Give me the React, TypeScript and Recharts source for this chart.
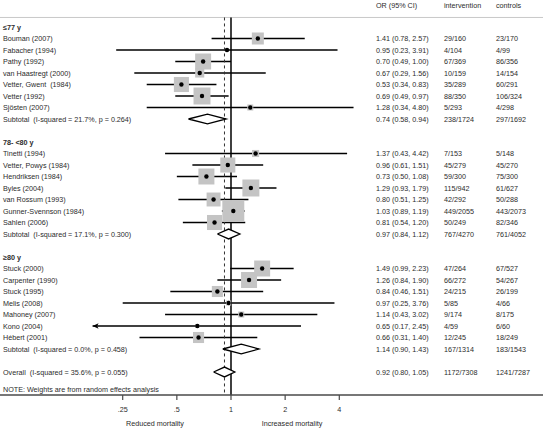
import React from "react";
import { ScatterChart, Scatter, XAxis, YAxis, ErrorBar, ReferenceLine } from "recharts";

const FONT = '"Liberation Sans", Arial, Helvetica, sans-serif';
const TEXT = "#2b2b2b";

const groupTitles = ["≤77 y", "78- <80 y", "≥80 y"];

const studyNames = [
  "Bouman (2007)", "Fabacher (1994)", "Pathy (1992)", "van Haastregt (2000)",
  "Vetter, Gwent  (1984)", "Vetter (1992)", "Sjösten (2007)",
  "Tinetti (1994)", "Vetter, Powys (1984)", "Hendriksen (1984)", "Byles (2004)",
  "van Rossum (1993)", "Gunner-Svennson (1984)", "Sahlen (2006)",
  "Stuck (2000)", "Carpenter (1990)", "Stuck (1995)", "Melis (2008)",
  "Mahoney (2007)", "Kono (2004)", "Hébert (2001)",
];
const studyGroup = [0, 0, 0, 0, 0, 0, 0, 1, 1, 1, 1, 1, 1, 1, 2, 2, 2, 2, 2, 2, 2];
const studyOR = [1.41, 0.95, 0.7, 0.67, 0.53, 0.69, 1.28, 1.37, 0.96, 0.73, 1.29, 0.8, 1.03, 0.81, 1.49, 1.26, 0.84, 0.97, 1.14, 0.65, 0.66];
const studyLow = [0.78, 0.23, 0.49, 0.29, 0.34, 0.49, 0.34, 0.43, 0.61, 0.5, 0.93, 0.51, 0.89, 0.54, 0.99, 0.84, 0.46, 0.25, 0.43, 0.17, 0.31];
const studyHigh = [2.57, 3.91, 1.0, 1.56, 0.83, 0.97, 4.8, 4.42, 1.51, 1.08, 1.79, 1.25, 1.19, 1.2, 2.23, 1.9, 1.51, 3.76, 3.02, 2.45, 1.4];
const studyIntervention = [
  "29/160", "4/104", "67/369", "10/159", "35/289", "88/350", "5/293",
  "7/153", "45/279", "59/300", "115/942", "42/292", "449/2055", "50/249",
  "47/264", "66/272", "24/215", "5/85", "9/174", "4/59", "12/245",
];
const studyControls = [
  "23/170", "4/99", "86/356", "14/154", "60/291", "106/324", "4/298",
  "5/148", "45/270", "75/300", "61/627", "50/288", "443/2073", "82/346",
  "67/527", "54/267", "26/199", "4/66", "8/175", "6/60", "18/249",
];
// random-effects weights (%)
const studyWeight = [4.0, 0.3, 7.1, 2.3, 6.3, 8.0, 1.0, 1.4, 6.3, 7.1, 8.0, 5.4, 13.4, 6.3, 7.1, 7.1, 3.4, 0.7, 1.0, 0.4, 3.4];
// studies whose lower CI is drawn with an arrow
const truncatedLow = ["Kono (2004)"];

const subtotalI2 = ["21.7%", "17.1%", "0.0%"];
const subtotalP = ["0.264", "0.300", "0.458"];
const subtotalOR = [0.74, 0.97, 1.14];
const subtotalLow = [0.58, 0.84, 0.9];
const subtotalHigh = [0.94, 1.12, 1.43];
const subtotalIntervention = ["238/1724", "767/4270", "167/1314"];
const subtotalControls = ["297/1692", "761/4052", "183/1543"];

const overallI2 = "35.6%";
const overallP = "0.055";
const overallOR = 0.92;
const overallLow = 0.8;
const overallHigh = 1.05;
const overallIntervention = "1172/7308";
const overallControls = "1241/7287";

const columnHeaders = ["OR (95% CI)", "intervention", "controls"];
const noteText = "NOTE: Weights are from random effects analysis";

const xTicks = [0.25, 0.5, 1, 2, 4];
const xTickLabels = [".25", ".5", "1", "2", "4"];

// layout
const W = 544;
const H = 432;
const X_DOMAIN: [number, number] = [-4.266, 5.762];
const Y_DOMAIN: [number, number] = [-2.348, 32];
const HEADER_ROW = -1.9;
const RULE_ROW = -0.83;
const COL_X = [3, 376, 444, 496];
const DIAMOND_HALF = 0.43;

type Row = { x: number; y: number; label: string; bold?: boolean; est?: string; iv?: string; ct?: string };

const ciText = (or: number, lo: number, hi: number) =>
  `${or.toFixed(2)} (${lo.toFixed(2)}, ${hi.toFixed(2)})`;

// text rows are anchored at the left edge of the x domain
const ROW_X = X_DOMAIN[0] + 0.01;

const rows: Row[] = [
  { x: ROW_X, y: HEADER_ROW, label: "", est: columnHeaders[0], iv: columnHeaders[1], ct: columnHeaders[2] },
];
const points: { x: number; y: number; w: number; err: [number, number] }[] = [];
const arrows: { x: number; y: number }[] = [];
const diamonds: { x: number; y: number }[][] = [];

const diamond = (or: number, lo: number, hi: number, y: number) => [
  { x: Math.log2(lo), y },
  { x: Math.log2(or), y: y - DIAMOND_HALF },
  { x: Math.log2(hi), y },
  { x: Math.log2(or), y: y + DIAMOND_HALF },
  { x: Math.log2(lo), y },
];

let r = 0;
groupTitles.forEach((title, g) => {
  rows.push({ x: ROW_X, y: r++, label: title, bold: true });
  studyNames.forEach((name, i) => {
    if (studyGroup[i] !== g) return;
    const x = Math.log2(studyOR[i]);
    rows.push({
      x: ROW_X,
      y: r,
      label: name,
      est: ciText(studyOR[i], studyLow[i], studyHigh[i]),
      iv: studyIntervention[i],
      ct: studyControls[i],
    });
    points.push({
      x,
      y: r,
      w: studyWeight[i],
      err: [x - Math.log2(studyLow[i]), Math.log2(studyHigh[i]) - x],
    });
    if (truncatedLow.includes(name)) arrows.push({ x: Math.log2(studyLow[i]), y: r });
    r++;
  });
  rows.push({
    x: ROW_X,
    y: r,
    label: `Subtotal  (I-squared = ${subtotalI2[g]}, p = ${subtotalP[g]})`,
    est: ciText(subtotalOR[g], subtotalLow[g], subtotalHigh[g]),
    iv: subtotalIntervention[g],
    ct: subtotalControls[g],
  });
  diamonds.push(diamond(subtotalOR[g], subtotalLow[g], subtotalHigh[g], r));
  r += 2;
});
rows.push({
  x: ROW_X,
  y: r,
  label: `Overall  (I-squared = ${overallI2}, p = ${overallP})`,
  est: ciText(overallOR, overallLow, overallHigh),
  iv: overallIntervention,
  ct: overallControls,
});
diamonds.push(diamond(overallOR, overallLow, overallHigh, r));
rows.push({ x: ROW_X, y: r + 1.5, label: noteText });

const txt = { fontFamily: FONT, fontSize: 7.2, fill: TEXT, whiteSpace: "pre" } as const;

const RowText = ({ cy, payload }: any) => {
  const row = payload as Row;
  const cells = [row.label, row.est, row.iv, row.ct];
  return (
    <g>
      {cells.map((c, i) =>
        c ? (
          <text key={i} x={COL_X[i]} y={cy} dy="0.35em" style={txt} fontWeight={row.bold ? "bold" : "normal"}>
            {c}
          </text>
        ) : null
      )}
    </g>
  );
};

const WeightBox = ({ cx, cy, payload }: any) => {
  const s = 6 * Math.sqrt(payload.w);
  return <rect x={cx - s / 2} y={cy - s / 2} width={s} height={s} fill="#c4c4c4" />;
};

const Dot = ({ cx, cy }: any) => <circle cx={cx} cy={cy} r={2.2} fill="#000" />;

const ArrowHead = ({ cx, cy }: any) => (
  <path d={`M${cx},${cy} L${cx + 6},${cy - 2.8} L${cx + 4.5},${cy} L${cx + 6},${cy + 2.8} Z`} fill="#000" />
);

const Empty = () => <g />;

const Captions = ({ viewBox }: any) => {
  const y = (viewBox?.y ?? 395) + 31;
  return (
    <g>
      <text x={155} y={y} textAnchor="middle" style={txt}>Reduced mortality</text>
      <text x={292} y={y} textAnchor="middle" style={txt}>Increased mortality</text>
    </g>
  );
};

export default function App() {
  return (
    <div style={{ position: "absolute", left: 0, top: 0, background: "#fff" }}>
      <ScatterChart width={W} height={H} margin={{ top: 0, right: 1, bottom: 0, left: 0 }}>
        <XAxis
          type="number"
          dataKey="x"
          domain={X_DOMAIN}
          allowDataOverflow
          ticks={xTicks.map(Math.log2)}
          tickFormatter={(v: number) => xTickLabels[xTicks.findIndex((t) => Math.abs(Math.log2(t) - v) < 1e-6)]}
          interval={0}
          height={37}
          tickSize={5}
          tickMargin={7}
          axisLine={{ stroke: "#4a4a4a", strokeWidth: 1.3 }}
          tickLine={{ stroke: "#4a4a4a", strokeWidth: 1.2 }}
          tick={{ fill: TEXT, fontSize: 7.2, fontFamily: FONT }}
          label={<Captions />}
        />
        <YAxis type="number" dataKey="y" domain={Y_DOMAIN} allowDataOverflow reversed hide />
        <ReferenceLine y={RULE_ROW} stroke="#c8c8c8" strokeWidth={1} />
        <Scatter data={rows} shape={<RowText />} isAnimationActive={false} />
        <Scatter data={points} shape={<WeightBox />} isAnimationActive={false} />
        <Scatter data={points} shape={<Dot />} isAnimationActive={false}>
          <ErrorBar dataKey="err" direction="x" width={0} stroke="#000" strokeWidth={1.6} isAnimationActive={false} />
        </Scatter>
        <Scatter data={arrows} shape={<ArrowHead />} isAnimationActive={false} />
        <ReferenceLine
          segment={[{ x: 0, y: RULE_ROW }, { x: 0, y: Y_DOMAIN[1] }]}
          stroke="#000"
          strokeWidth={1.5}
        />
        <ReferenceLine
          segment={[{ x: Math.log2(overallOR), y: RULE_ROW }, { x: Math.log2(overallOR), y: Y_DOMAIN[1] }]}
          stroke="#333"
          strokeWidth={1}
          strokeDasharray="3 3"
        />
        {diamonds.map((d, i) => (
          <Scatter
            key={i}
            data={d}
            shape={<Empty />}
            line={{ stroke: "#000", strokeWidth: 1.3, fill: "#fff" }}
            lineType="joint"
            isAnimationActive={false}
          />
        ))}
      </ScatterChart>
    </div>
  );
}
